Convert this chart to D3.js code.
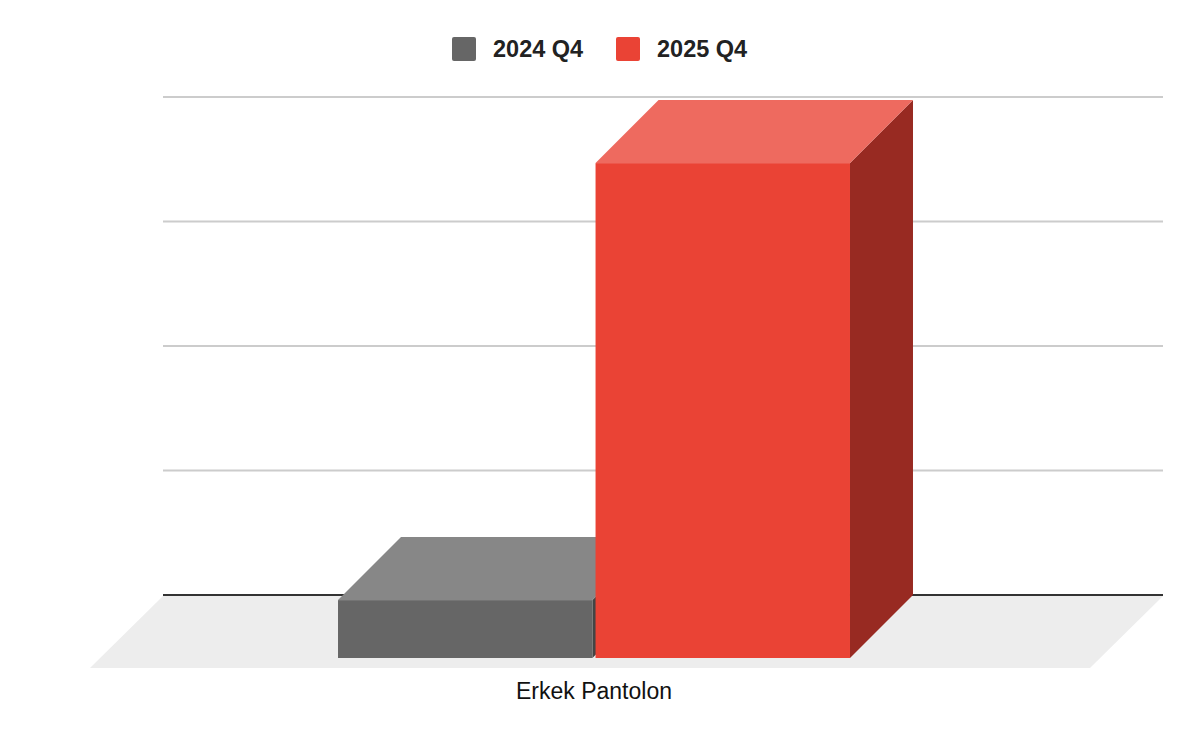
<!DOCTYPE html>
<meta charset="utf-8">
<script src="https://d3js.org/d3.v7.min.js"></script>
<style>
  body { margin: 0; background: #fff; }
  text { font-family: Arial, "Liberation Sans", sans-serif; }
</style>
<body>
<svg id="chart" width="1200" height="742"></svg>
<script>
// data
const categories = ["Erkek Pantolon"];
const series = ["2024 Q4", "2025 Q4"];
const values = [[465, 3975]];   // one row per category
const gridTicks = [0, 1000, 2000, 3000, 4000];

const colors = {
  "2024 Q4": { front: "#666666", top: "#878787", side: "#444444" },
  "2025 Q4": { front: "#ea4335", top: "#ee6a5f", side: "#982a22" }
};

const svg = d3.select("#chart");

// back wall plane
const backLeft = 163, backRight = 1163, baseY = 595;
const floorDepth = 73;   // floor offset toward viewer
const barDepth = 63;     // bar depth (dx = dy)

const y = d3.scaleLinear().domain([0, 4000]).range([baseY, 97]);

// front plane x positions
const x0 = d3.scaleBand().domain(categories)
  .range([backLeft - floorDepth + 4, backRight - floorDepth + 4])
  .paddingOuter(0.4766).paddingInner(0);
const x1 = d3.scaleBand().domain(series)
  .range([0, x0.bandwidth()]).paddingInner(0.012);

// floor
svg.append("polygon")
  .attr("points", [
    [backLeft, baseY + 1], [backRight, baseY + 1],
    [backRight - floorDepth, baseY + floorDepth], [backLeft - floorDepth, baseY + floorDepth]
  ].map(p => p.join(",")).join(" "))
  .attr("fill", "#ededed");

// gridlines
svg.append("g").selectAll("line")
  .data(gridTicks.filter(d => d > 0))
  .join("line")
  .attr("x1", backLeft).attr("x2", backRight)
  .attr("y1", d => y(d)).attr("y2", d => y(d))
  .attr("stroke", "#cccccc").attr("stroke-width", 2);

svg.append("line")
  .attr("x1", backLeft).attr("x2", backRight)
  .attr("y1", baseY).attr("y2", baseY)
  .attr("stroke", "#333333").attr("stroke-width", 2);

// bars
const bars = [];
categories.forEach((c, ci) => {
  series.forEach((s, si) => {
    bars.push({ cat: c, s: s, v: values[ci][si] });
  });
});

const pts = a => a.map(p => p.join(",")).join(" ");
const g = svg.append("g");
bars.forEach(b => {
  const xl = x0(b.cat) + x1(b.s);
  const xr = xl + x1.bandwidth();
  const yb = baseY + barDepth;          // front bottom
  const yt = y(b.v) + barDepth;         // front top
  const d = barDepth;
  const col = colors[b.s];
  // side
  g.append("polygon")
    .attr("points", pts([[xr, yb], [xr, yt], [xr + d, yt - d], [xr + d, yb - d]]))
    .attr("fill", col.side);
  // top
  g.append("polygon")
    .attr("points", pts([[xl, yt], [xr, yt], [xr + d, yt - d], [xl + d, yt - d]]))
    .attr("fill", col.top);
  // front
  g.append("rect")
    .attr("x", xl).attr("y", yt)
    .attr("width", xr - xl).attr("height", yb - yt)
    .attr("fill", col.front);
});

// category label
svg.append("g").selectAll("text")
  .data(categories)
  .join("text")
  .attr("x", d => x0(d) + x0.bandwidth() / 2)
  .attr("y", 699)
  .attr("text-anchor", "middle")
  .attr("font-size", 23)
  .attr("fill", "#111")
  .text(d => d);

// legend
const legendX = [452, 616];
const lg = svg.append("g").selectAll("g")
  .data(series)
  .join("g")
  .attr("transform", (d, i) => `translate(${legendX[i]},37)`);
lg.append("rect")
  .attr("width", 24).attr("height", 24).attr("rx", 2)
  .attr("fill", d => colors[d].front);
lg.append("text")
  .attr("x", 41).attr("y", 19.5)
  .attr("font-size", 23.5).attr("font-weight", "bold")
  .attr("fill", "#222")
  .text(d => d);
</script>
</body>
